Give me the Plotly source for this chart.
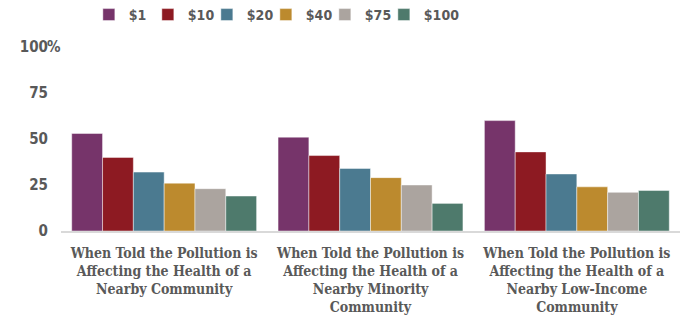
import plotly.graph_objects as go

categories = [
    "When Told the Pollution is<br>Affecting the Health of a<br>Nearby Community",
    "When Told the Pollution is<br>Affecting the Health of a<br>Nearby Minority<br>Community",
    "When Told the Pollution is<br>Affecting the Health of a<br>Nearby Low-Income<br>Community",
]
series_names = ["$1", "$10", "$20", "$40", "$75", "$100"]
v_1 = [53, 51, 60]
v_10 = [40, 41, 43]
v_20 = [32, 34, 31]
v_40 = [26, 29, 24]
v_75 = [23, 25, 21]
v_100 = [19, 15, 22]
series_values = [v_1, v_10, v_20, v_40, v_75, v_100]
colors = ["#76346A", "#8D1A22", "#4B7A90", "#BC8A2E", "#ABA49F", "#4E7A6C"]

tick_vals = [0, 25, 50, 75, 100]
tick_text = ["0", "25", "50", "75", "100"]

fig = go.Figure()
for name, vals, col in zip(series_names, series_values, colors):
    fig.add_trace(go.Bar(
        x=categories, y=vals, name=name,
        marker=dict(color=col, line=dict(color="rgba(255,255,255,0.45)", width=1)),
    ))
# invisible spacer legend entry so the last legend label is not clipped
fig.add_trace(go.Scatter(
    x=[None], y=[None], name=" ", mode="markers", hoverinfo="skip",
    marker=dict(color="rgba(0,0,0,0)", size=1),
))

gray = "#595959"
fig.update_layout(
    width=695, height=323,
    margin=dict(l=61, r=15, t=47, b=92, autoexpand=False),
    paper_bgcolor="white", plot_bgcolor="white",
    barmode="group", bargap=0.104, bargroupgap=0,
    showlegend=True,
    legend=dict(
        orientation="h", x=0.045, xanchor="left", y=1.174, yanchor="middle",
        font=dict(family="DejaVu Sans Condensed", size=14, color=gray, weight="bold"),
        itemwidth=30, traceorder="normal", entrywidth=14, entrywidthmode="pixels",
    ),
    xaxis=dict(
        showline=True, linecolor="#D9D9D9", linewidth=2,
        showgrid=False, tickangle=0, ticks="", ticklabelstandoff=8,
        tickfont=dict(family="DejaVu Serif Condensed", size=14, color=gray, weight="bold"),
    ),
    yaxis=dict(
        range=[0, 100], tickvals=tick_vals, ticktext=tick_text,
        showgrid=False, zeroline=False, showline=False, ticks="",
        ticklabelstandoff=12,
        tickfont=dict(family="DejaVu Sans Condensed", size=15, color=gray, weight="bold"),
    ),
    annotations=[dict(
        text="%", x=-0.026, xref="paper", y=100, yref="y",
        xanchor="left", yanchor="middle", showarrow=False,
        font=dict(family="DejaVu Sans Condensed", size=15, color=gray, weight="bold"),
    )],
)

fig.write_html("out.html")
